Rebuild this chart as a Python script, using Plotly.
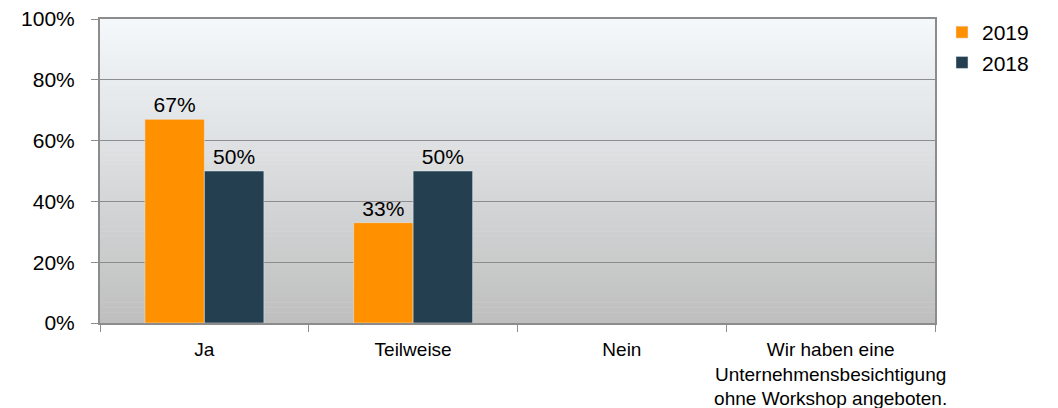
import plotly.graph_objects as go

categories = ["Ja", "Teilweise", "Nein",
              "Wir haben eine<br>Unternehmensbesichtigung<br>ohne Workshop angeboten."]
values_2019 = [0.67, 0.33, None, None]
values_2018 = [0.50, 0.50, None, None]
y_ticks = [0, 0.2, 0.4, 0.6, 0.8, 1.0]
y_tick_labels = ["0%", "20%", "40%", "60%", "80%", "100%"]

fig = go.Figure()
fig.add_trace(go.Bar(
    name="2019", x=categories, y=values_2019, marker_color="#FF9000",
    texttemplate="%{y:.0%}", textposition="outside",
    textfont=dict(size=21, color="#000000"), cliponaxis=False))
fig.add_trace(go.Bar(
    name="2018", x=categories, y=values_2018, marker_color="#233F50",
    texttemplate="%{y:.0%}", textposition="outside",
    textfont=dict(size=21, color="#000000"), cliponaxis=False))

# gradient background for plot area
n = 60
top = (244, 248, 251)
bot = (191, 191, 191)
shapes = []
for i in range(n):
    t = i / (n - 1)
    c = tuple(round(bot[k] + (top[k] - bot[k]) * t) for k in range(3))
    shapes.append(dict(type="rect", xref="paper", yref="paper",
                       x0=0, x1=1, y0=i / n, y1=(i + 1) / n + 0.002,
                       fillcolor="rgb(%d,%d,%d)" % c, line=dict(width=0),
                       layer="below"))

fig.update_layout(
    width=1050, height=400,
    margin=dict(l=92, r=123, t=11, b=85, autoexpand=False),
    paper_bgcolor="white", plot_bgcolor="rgba(0,0,0,0)",
    font=dict(family="Liberation Sans, Arial", size=18, color="#000000"),
    barmode="group", bargap=0.43, bargroupgap=0,
    shapes=shapes,
    showlegend=True,
    legend=dict(xref="container", yref="container",
                x=0.8895, y=0.99, xanchor="left", yanchor="top",
                font=dict(size=21), itemwidth=30, tracegroupgap=0,
                bgcolor="rgba(0,0,0,0)"),
)
fig.update_yaxes(range=[0, 1], tickvals=y_ticks, ticktext=y_tick_labels,
                 showgrid=True, gridcolor="#8c8c8c", gridwidth=1,
                 showline=True, linecolor="#8c8c8c", linewidth=2, mirror=True,
                 ticks="outside", ticklen=7, tickcolor="#8c8c8c",
                 tickfont=dict(size=21), zeroline=False, automargin=False,
                 ticklabelstandoff=12, ticklabeloverflow="allow")
fig.update_xaxes(showline=True, linecolor="#8c8c8c", linewidth=2, mirror=True,
                 ticks="outside", ticklen=7, tickcolor="#8c8c8c",
                 tickson="boundaries", tickfont=dict(size=19),
                 tickangle=0, automargin=False, ticklabelstandoff=8,
                 ticklabeloverflow="allow")

fig.write_html("out.html")
